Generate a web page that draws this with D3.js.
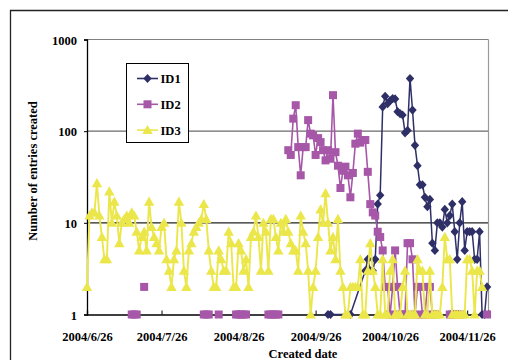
<!DOCTYPE html>
<html><head><meta charset="utf-8">
<script src="https://cdn.jsdelivr.net/npm/d3@7"></script>
<style>body{margin:0;background:#fff}svg{display:block}</style>
</head><body>
<svg id="c" width="508" height="360"></svg>
<script>
// ---------- data ----------
const startDate = "2004-06-26";
const axisEnd = "2004-12-04T14:00:00Z";
const tickDates = ["2004-06-26","2004-07-26","2004-08-26","2004-09-26","2004-10-26","2004-11-26"];
const tickLabels = ["2004/6/26","2004/7/26","2004/8/26","2004/9/26","2004/10/26","2004/11/26"];
const yTicks = [1,10,100,1000];
const yTickLabels = ["1","10","100","1000"];
const seriesNames = ["ID1","ID2","ID3"];
const N = null;
// one value per day starting at startDate (null = no entry)
const id1 = [
N,N,N,N,N,N,N,N,N,N, N,N,N,N,N,N,N,N,N,N, N,N,N,N,N,N,N,N,N,N,
N,N,N,N,N,N,N,N,N,N, N,N,N,N,N,N,N,N,N,N, N,N,N,N,N,N,N,N,N,N,
N,N,N,N,N,N,N,N,N,N, N,N,N,N,N,N,N,N,N,N, N,N,N,N,N,N,N,N,N,N,
N,N,N,N,N,N,N,1,1,N, //90-99
N,N,N,N,N,N,1,N,N,N, //100-109
N,N,3,4,3,3,4,16,20,184, //110-119
240,200,215,227,225,163,155,150,96,102, //120-129
375,170,70,42,26,26,19,15,18,6, //130-139
5,10,10,9,14,10,12,16,8,4, //140-149
10,17,5,8,8,8,4,4,8,1, //150-159
1,2];
const id2 = [
N,N,N,N,N,N,N,N,N,N, //0-9
N,N,N,N,N,N,N,N,1,1, //10-19
1,N,N,2,N,N,N,N,N,N, //20-29
N,N,N,N,N,N,N,N,N,N, //30-39
N,N,N,N,N,N,N,1,1,1, //40-49
N,N,N,1,N,N,N,N,N,N, //50-59
1,1,1,1,1,N,N,N,N,N, //60-69
N,N,N,1,1,1,1,1,N,N, //70-79
N,62,55,137,192,67,33,67,67,132, //80-89
94,90,55,84,76,62,48,62,50,247, //90-99
59,42,24,37,41,33,19,35,73,94, //100-109
75,80,80,36,16,13,12,8,7,5, //110-119
2,2,1,2,5,2,1,1,1,6, //120-129
6,4,1,2,2,1,1,2,2,1, //130-139
1,N,N,N,N,N,1,1,1,1, //140-149
1,N,N,N,N,N,N,N,N,N, //150-159
N,1];
const id3 = [
2,12,13,13,27,12,7,4,4,22, //0-9
10,17,12,6,10,11,12,10,13,12, //10-19
8,5,7,8,5,17,9,7,6,5, //20-29
9,10,4,3,2,4,5,17,10,3, //30-39
2,5,6,8,9,10,11,16,11,5, //40-49
3,2,2,5,4,3,3,8,6,2, //50-59
2,6,5,3,4,2,7,8,12,7, //60-69
3,10,8,3,11,11,7,5,10,8, //70-79
11,8,6,5,5,3,12,8,6,3, //80-89
1,2,3,7,14,10,21,10,5,7, //90-99
4,11,3,2,1,1,2,2,2,2, //100-109
4,1,1,3,6,3,2,1,1,4, //110-119
1,1,3,4,1,1,1,2,3,1, //120-129
1,1,1,4,3,3,1,1,3,1, //130-139
1,1,1,2,7,4,4,1,1,1, //140-149
1,1,1,4,4,3,1,3,3,2, //150-159
N,N];
const colors = ["#2f2f68","#a657a8","#ebe64a"];

// ---------- chart ----------
const svg = d3.select("#c");
const parse = d3.utcParse("%Y-%m-%d");
const start = parse(startDate);
const days = d3.range(id3.length).map(i => d3.utcDay.offset(start, i));
const x = d3.scaleUtc().domain([start, new Date(axisEnd)]).range([87, 488.5]);
const y = d3.scaleLog().domain([1, 1000]).range([314.5, 39.5]);
const font = "'Liberation Serif','Times New Roman',serif";

// outer frame
svg.append("path").attr("d","M10.5,362V10.5H510").attr("fill","none").attr("stroke","#222").attr("stroke-width",1.3);

// gridlines
const gridCol = {1:"#000",10:"#222",100:"#6a6a6a",1000:"#808080"};
yTicks.forEach(t => {
  if (t === 1) return;
  svg.append("line").attr("x1",87).attr("x2",488.5).attr("y1",y(t)).attr("y2",y(t))
    .attr("stroke",gridCol[t]).attr("stroke-width",1.2);
});
// right border
svg.append("line").attr("x1",488.5).attr("x2",488.5).attr("y1",y(1000)).attr("y2",y(1))
  .attr("stroke","#999").attr("stroke-width",1.2);

// axes
const xAxis = d3.axisBottom(x).tickValues(tickDates.map(parse)).tickSize(-4).tickFormat((d,i)=>tickLabels[i]);
const gx = svg.append("g").attr("transform",`translate(0,${y(1)})`).call(xAxis);
gx.select(".domain").attr("stroke","#000").attr("stroke-width",1.3);
gx.selectAll(".tick line").attr("stroke","#000");
gx.selectAll(".tick text").attr("font-family",font).attr("font-weight","bold").attr("font-size",12.5)
  .attr("fill","#000").attr("dy",null).attr("y",26);

const yAxis = d3.axisLeft(y).tickValues(yTicks).tickSize(3).tickFormat((d,i)=>yTickLabels[i]);
const gy = svg.append("g").attr("transform","translate(87,0)").call(yAxis);
gy.select(".domain").attr("stroke","#000").attr("stroke-width",1.3);
gy.selectAll(".tick line").attr("stroke","#000");
gy.selectAll(".tick text").attr("font-family",font).attr("font-weight","bold").attr("font-size",12.5)
  .attr("fill","#000").attr("x",-10).attr("dy","0.36em");

// titles
svg.append("text").attr("transform","translate(36.5,171) rotate(-90)").attr("text-anchor","middle")
  .attr("font-family",font).attr("font-weight","bold").attr("font-size",12.5).text("Number of entries created");
svg.append("text").attr("x",303).attr("y",358).attr("text-anchor","middle")
  .attr("font-family",font).attr("font-weight","bold").attr("font-size",12.5).text("Created date");

// markers
function marker(g, type, cx, cy, col) {
  if (type === 0) g.append("path").attr("d",`M${cx},${cy-4.6}L${cx+4.2},${cy}L${cx},${cy+4.6}L${cx-4.2},${cy}Z`).attr("fill",col);
  else if (type === 1) g.append("rect").attr("x",cx-4).attr("y",cy-4).attr("width",8).attr("height",8).attr("fill",col);
  else g.append("path").attr("d",`M${cx},${cy-5.2}L${cx+5.2},${cy+4}L${cx-5.2},${cy+4}Z`).attr("fill",col);
}

const series = [id1, id2, id3];
series.forEach((vals, si) => {
  const pts = days.map((d,i)=>({d, v: vals[i]}));
  const g = svg.append("g");
  const line = d3.line().x(p=>x(p.d)).y(p=>y(p.v));
  if (si === 0) {
    g.append("path").attr("d", line(pts.filter(p=>p.v!=null))).attr("fill","none")
      .attr("stroke",colors[si]).attr("stroke-width",1.5);
  } else {
    g.append("path").attr("d", line.defined(p=>p.v!=null)(pts)).attr("fill","none")
      .attr("stroke",colors[si]).attr("stroke-width",si===2?1.9:1.6);
  }
  pts.filter(p=>p.v!=null).forEach(p => marker(g, si, x(p.d), y(p.v), colors[si]));
});

// legend
const lg = svg.append("g");
lg.append("rect").attr("x",126.5).attr("y",63.5).attr("width",62).attr("height",79)
  .attr("fill","#fff").attr("stroke","#000").attr("stroke-width",1);
seriesNames.forEach((name, i) => {
  const yy = 78.5 + i*25.8;
  lg.append("line").attr("x1",137).attr("x2",158).attr("y1",yy).attr("y2",yy)
    .attr("stroke",colors[i]).attr("stroke-width",1.6);
  marker(lg, i, 147.5, yy, colors[i]);
  lg.append("text").attr("x",160.5).attr("y",yy+4.5).attr("font-family",font)
    .attr("font-weight","bold").attr("font-size",12.5).text(name);
});
</script>
</body></html>
